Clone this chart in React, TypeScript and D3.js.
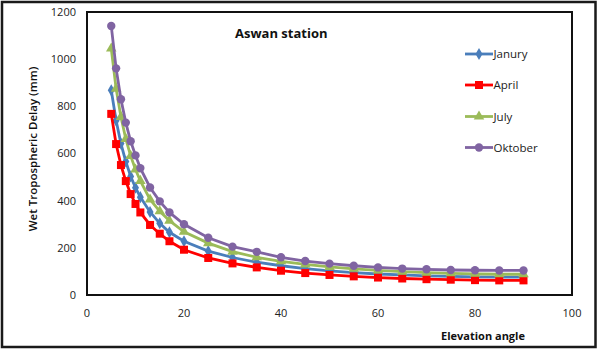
import * as d3 from "d3";

const angles = [5, 6, 7, 8, 9, 10, 11, 13, 15, 17, 20, 25, 30, 35, 40, 45, 50, 55, 60, 65, 70, 75, 80, 85, 90];

const january = [868, 740, 642, 566, 503, 455, 415, 352, 304, 266, 228, 186, 159, 139, 124, 112, 102, 95, 89, 85, 81, 79, 77, 76, 76];
const april = [768, 640, 551, 483, 428, 386, 350, 297, 260, 228, 192, 157, 134, 117, 103, 93, 85, 79, 74, 70, 67, 65, 63, 62, 62];
const july = [1045, 875, 755, 662, 590, 532, 484, 405, 355, 315, 268, 220, 184, 160, 143, 130, 119, 111, 104, 99, 95, 92, 90, 88, 88];
const oktober = [1141, 961, 830, 731, 652, 592, 538, 456, 397, 350, 300, 243, 205, 183, 160, 144, 133, 124, 117, 112, 109, 106, 105, 104, 104];

const xTicks = [0, 20, 40, 60, 80, 100];
const yTicks = [0, 200, 400, 600, 800, 1000, 1200];

const series = [
  { name: "Janury", values: january, color: "#4A7EBB", marker: "diamond" },
  { name: "April", values: april, color: "#FF0000", marker: "square" },
  { name: "July", values: july, color: "#9BBB59", marker: "triangle" },
  { name: "Oktober", values: oktober, color: "#8064A2", marker: "circle" },
];

const W = 600;
const H = 353;
const plot = { left: 87, top: 12, right: 572, bottom: 295 };
const FONT = "'Open Sans', 'Noto Sans', sans-serif";

function Marker({ type, x, y, color }: { type: string; x: number; y: number; color: string }) {
  if (type === "square") {
    return <rect x={x - 4} y={y - 4} width={8} height={8} fill={color} />;
  }
  if (type === "circle") {
    return <circle cx={x} cy={y} r={4.2} fill={color} />;
  }
  const sym = type === "diamond" ? d3.symbolDiamond : d3.symbolTriangle;
  const size = type === "diamond" ? 42 : 48;
  const path = d3.symbol().type(sym).size(size)() ?? "";
  return <path d={path} transform={`translate(${x},${y})`} fill={color} />;
}

export default function App() {
  const x = d3.scaleLinear().domain([0, 100]).range([plot.left, plot.right]);
  const y = d3.scaleLinear().domain([0, 1200]).range([plot.bottom, plot.top]);
  const line = d3
    .line<number>()
    .x((_, i) => x(angles[i]))
    .y((v) => y(v));

  const legendX = 465;
  const legendY = [54, 85, 116.5, 147.5];

  return (
    <div style={{ position: "absolute", left: 0, top: 0 }}>
      <svg width={W} height={H} style={{ display: "block", background: "#fff" }} fontFamily={FONT}>
        <rect x={2} y={2} width={593.5} height={345} fill="#fff" stroke="#1a1a1a" strokeWidth={2.5} />
        <rect
          x={plot.left}
          y={plot.top}
          width={plot.right - plot.left}
          height={plot.bottom - plot.top}
          fill="#fff"
          stroke="#111"
          strokeWidth={2}
        />

        {yTicks.map((t) => (
          <text key={t} x={76} y={y(t)} dy="0.35em" textAnchor="end" fontSize={11} fill="#222">
            {t}
          </text>
        ))}
        {xTicks.map((t) => (
          <text key={t} x={x(t)} y={313} dy="0.35em" textAnchor="middle" fontSize={11} fill="#222">
            {t}
          </text>
        ))}

        <text
          transform={`translate(33,149) rotate(-90)`}
          textAnchor="middle"
          dy="0.35em"
          fontSize={11.5}
          fontWeight={600}
          fill="#111"
        >
          Wet Tropospheric Delay (mm)
        </text>
        <text x={483} y={336} dy="0.35em" textAnchor="middle" fontSize={11} fontWeight={700} fill="#111">
          Elevation angle
        </text>
        <text x={235} y={33} dy="0.35em" fontSize={13} fontWeight={700} fill="#111">
          Aswan station
        </text>

        {series.map((s) => (
          <g key={s.name}>
            <path d={line(s.values) ?? ""} fill="none" stroke={s.color} strokeWidth={2.8} />
            {s.values.map((v, i) => (
              <Marker key={i} type={s.marker} x={x(angles[i])} y={y(v)} color={s.color} />
            ))}
          </g>
        ))}

        {series.map((s, i) => (
          <g key={s.name} transform={`translate(${legendX},${legendY[i]})`}>
            <line x1={0} x2={28} y1={0} y2={0} stroke={s.color} strokeWidth={2.8} />
            <Marker type={s.marker} x={14} y={0} color={s.color} />
            <text x={28.5} y={0} dy="0.35em" fontSize={11.5} fill="#222">
              {s.name}
            </text>
          </g>
        ))}
      </svg>
    </div>
  );
}
